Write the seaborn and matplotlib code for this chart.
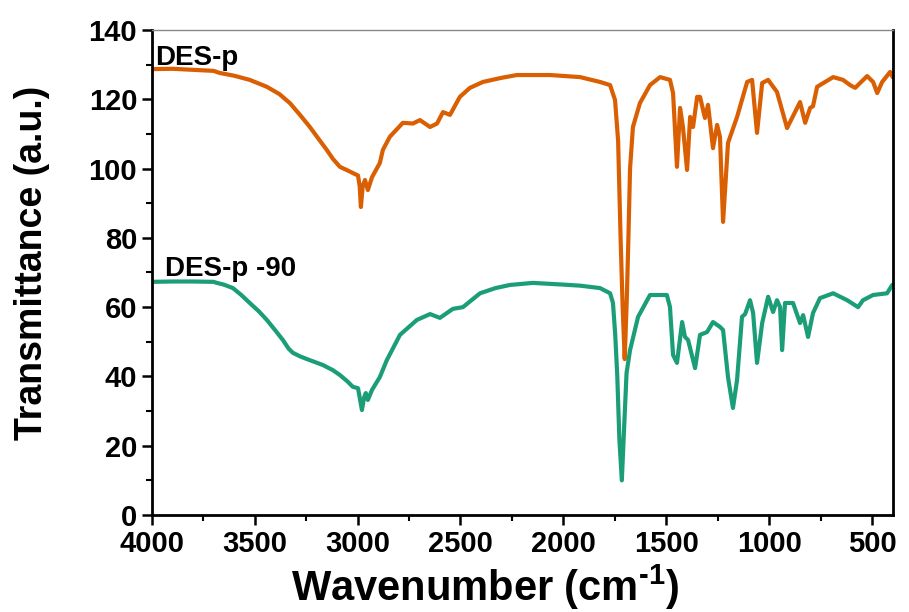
import matplotlib
matplotlib.use("Agg")
import matplotlib.pyplot as plt
import seaborn as sns
import pandas as pd
from matplotlib.ticker import MultipleLocator

# ---- data ----
wn_p = [4000, 3900, 3800, 3700, 3670, 3600, 3524, 3441, 3380, 3329, 3280, 3232, 3190, 3150,
        3120, 3086, 3050, 3023, 2998, 2990, 2984, 2975, 2964, 2950, 2930, 2892, 2877, 2843,
        2780, 2731, 2697, 2648, 2614, 2585, 2551, 2503, 2454, 2391, 2300, 2226, 2065, 1919,
        1822, 1773, 1749, 1734, 1722, 1712, 1702, 1692, 1684, 1676, 1662, 1628, 1579, 1530,
        1482, 1467, 1448, 1433, 1419, 1399, 1384, 1370, 1350, 1336, 1312, 1297, 1273, 1253,
        1239, 1224, 1200, 1156, 1107, 1083, 1059, 1034, 1005, 962, 913, 850, 825, 801, 787,
        767, 689, 641, 607, 582, 524, 495, 475, 451, 412, 400]
t_p = [128.7, 128.8, 128.5, 128.2, 127.6, 126.8, 125.6, 123.6, 121.5, 118.9, 115.5, 112.0,
       108.6, 105.4, 102.8, 100.5, 99.5, 98.7, 98.0, 95.0, 88.9, 95.0, 96.7, 93.8, 97.5,
       101.6, 105.4, 109.2, 113.2, 113.0, 114.0, 112.0, 113.0, 116.3, 115.5, 120.7, 123.3,
       125.0, 126.2, 127.0, 127.0, 126.4, 125.0, 124.1, 119.8, 108.0, 80.0, 60.0, 45.0, 62.0,
       80.0, 100.0, 112.0, 118.9, 124.1, 126.4, 125.6, 121.8, 100.5, 117.5, 112.0, 99.6,
       114.9, 112.0, 120.7, 120.7, 114.6, 118.4, 105.9, 112.6, 109.1, 84.6, 107.4, 114.9,
       125.0, 125.6, 110.3, 124.7, 125.6, 122.1, 111.7, 119.2, 113.2, 117.5, 118.0, 123.6,
       126.4, 125.6, 124.1, 123.3, 126.7, 125.0, 121.8, 125.0, 127.9, 126.4]

wn_p90 = [4000, 3900, 3800, 3700, 3684, 3650, 3606, 3565, 3524, 3480, 3441, 3400, 3363, 3335,
          3314, 3280, 3246, 3169, 3120, 3086, 3050, 3023, 2998, 2990, 2979, 2968, 2960, 2950,
          2930, 2892, 2858, 2794, 2712, 2648, 2600, 2537, 2488, 2405, 2330, 2260, 2148, 2000,
          1919, 1822, 1773, 1759, 1748, 1738, 1728, 1716, 1705, 1693, 1676, 1637, 1579, 1497,
          1482, 1467, 1448, 1423, 1409, 1394, 1360, 1336, 1302, 1273, 1239, 1224, 1200, 1176,
          1156, 1132, 1117, 1093, 1078, 1059, 1034, 1005, 981, 962, 947, 937, 923, 884, 850,
          835, 811, 787, 753, 689, 621, 568, 544, 495, 427, 402]
t_p90 = [67.3, 67.4, 67.4, 67.3, 67.0, 66.5, 65.5, 63.5, 61.2, 58.8, 56.3, 53.3, 50.5, 48.0,
         46.8, 45.8, 45.0, 43.3, 41.8, 40.4, 38.6, 37.0, 36.6, 34.0, 30.3, 34.0, 35.2, 33.2,
         36.1, 39.8, 44.7, 52.0, 56.3, 58.0, 56.9, 59.5, 60.0, 64.0, 65.5, 66.4, 67.0, 66.5,
         66.2, 65.5, 64.0, 61.2, 52.0, 40.0, 22.0, 10.0, 25.0, 41.0, 47.6, 57.2, 63.5, 63.5,
         60.0, 46.2, 43.9, 55.7, 51.4, 50.5, 42.4, 52.0, 52.8, 55.7, 54.3, 53.4, 39.8, 30.9,
         39.0, 57.2, 58.0, 62.0, 58.3, 43.9, 55.4, 63.0, 58.6, 62.0, 60.0, 47.6, 61.2, 61.2,
         55.4, 57.7, 51.4, 58.3, 62.6, 64.0, 62.0, 60.0, 62.0, 63.5, 64.0, 66.4]

series_names = ["DES-p", "DES-p -90"]
series_colors = ["#D95F02", "#1B9E77"]
x_ticks = [4000, 3500, 3000, 2500, 2000, 1500, 1000, 500]
y_ticks = [0, 20, 40, 60, 80, 100, 120, 140]

df = pd.concat([
    pd.DataFrame({"wn": wn_p, "T": t_p, "sample": series_names[0]}),
    pd.DataFrame({"wn": wn_p90, "T": t_p90, "sample": series_names[1]}),
])

sns.set_style("ticks")
plt.rcParams["font.family"] = ["Liberation Sans", "DejaVu Sans"]
plt.rcParams["font.weight"] = "bold"
plt.rcParams["text.color"] = "black"
plt.rcParams["axes.labelcolor"] = "black"
plt.rcParams["xtick.color"] = "black"
plt.rcParams["ytick.color"] = "black"
plt.rcParams["mathtext.fontset"] = "custom"
plt.rcParams["mathtext.rm"] = "Liberation Sans:bold"
plt.rcParams["mathtext.bf"] = "Liberation Sans:bold"
plt.rcParams["mathtext.default"] = "bf"

fig = plt.figure(figsize=(9.09, 6.12), dpi=100)
ax = fig.add_axes([0.167, 0.1585, 0.815, 0.7925])

sns.lineplot(data=df, x="wn", y="T", hue="sample", palette=series_colors,
             hue_order=series_names, sort=False, estimator=None, lw=3.0,
             legend=False, ax=ax, solid_joinstyle="round")

ax.set_xlim(4000, 400)
ax.set_ylim(0, 140)
ax.set_xticks(x_ticks)
ax.set_yticks(y_ticks)
ax.xaxis.set_minor_locator(MultipleLocator(250))
ax.yaxis.set_minor_locator(MultipleLocator(10))
ax.tick_params(which="major", length=7, width=1.8, labelsize=21, direction="out",
               colors="black")
ax.tick_params(which="minor", length=4, width=1.5, direction="out", colors="black")
for lab in ax.get_xticklabels() + ax.get_yticklabels():
    lab.set_fontweight("bold")
for side in ["left", "bottom", "right"]:
    ax.spines[side].set_linewidth(2)
    ax.spines[side].set_color("black")
ax.spines["top"].set_linewidth(1)
ax.spines["top"].set_color("#888888")

ax.set_xlabel(r"Wavenumber (cm$^{\text{-1}}$)", fontsize=30, fontweight="bold")
ax.xaxis.set_label_coords(0.45, -0.098)
ax.set_ylabel("Transmittance (a.u.)", fontsize=27, fontweight="bold")
ax.yaxis.set_label_coords(-0.138, 0.52)

ax.text(3985, 130.0, series_names[0], fontsize=20, fontweight="bold", ha="left", va="baseline")
ax.text(3937, 69.0, series_names[1], fontsize=20, fontweight="bold", ha="left", va="baseline")

fig.savefig("out.png", dpi=100)
